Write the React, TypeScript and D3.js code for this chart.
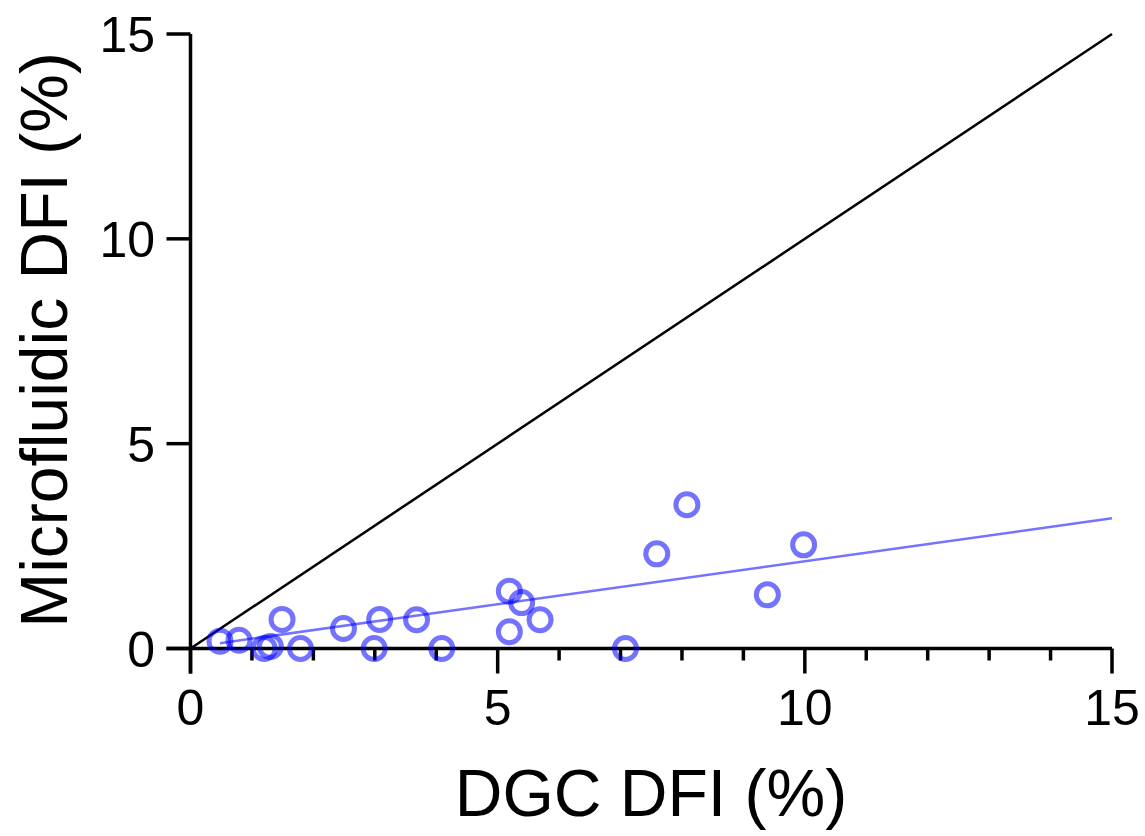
import React from "react";
import * as d3 from "d3";

const dgcDFI = [0.48, 0.79, 1.2, 1.3, 1.49, 1.79, 2.49, 2.99, 3.08, 3.68, 4.09, 5.19, 5.39, 5.19, 5.69, 7.08, 7.59, 8.08, 9.39, 9.98];
const microDFI = [0.18, 0.2, 0.0, 0.05, 0.71, 0.0, 0.49, 0.0, 0.71, 0.7, 0.0, 1.4, 1.12, 0.41, 0.7, 0.0, 2.31, 3.51, 1.31, 2.53];
const majorTicks = [0, 5, 10, 15];
const minorTicksX = d3.range(0, 16, 1);
const fitSlope = 0.21;
const fitIntercept = 0.03;
const xLabel = "DGC DFI (%)";
const yLabel = "Microfluidic DFI (%)";

export default function App() {
  const W = 1145, H = 836;
  const x = d3.scaleLinear().domain([0, 15]).range([190.5, 1112]);
  const y = d3.scaleLinear().domain([0, 15]).range([648.5, 34]);
  const font = "'Liberation Sans', Arial, Helvetica, sans-serif";
  const line = d3.line<[number, number]>().x(d => x(d[0])).y(d => y(d[1]));
  const xMin = d3.min(dgcDFI) as number;
  const fitPts: [number, number][] = [[xMin, fitSlope * xMin + fitIntercept], [15, fitSlope * 15 + fitIntercept]];
  const idPts: [number, number][] = [[0, 0], [15, 15]];
  const pts = dgcDFI.map((v, i) => [v, microDFI[i]] as [number, number]);
  return (
    <svg width={W} height={H} style={{ position: "absolute", left: 0, top: 0, background: "#fff" }} fontFamily={font}>
      <path d={line(idPts) || ""} stroke="#000" strokeWidth={2.5} fill="none" />
      <path d={line(fitPts) || ""} stroke="#0000ff" strokeOpacity={0.55} strokeWidth={2.5} fill="none" />
      <line x1={x(0)} x2={x(0)} y1={y(15)} y2={y(0) + 25} stroke="#000" strokeWidth={3.5} />
      <line x1={x(0) - 24} x2={x(15)} y1={y(0)} y2={y(0)} stroke="#000" strokeWidth={3.5} />
      {minorTicksX.map(t => (
        <line key={"mx" + t} x1={x(t)} x2={x(t)} y1={y(0)} y2={y(0) + (t % 5 === 0 ? 25 : 12)} stroke="#000" strokeWidth={3.5} />
      ))}
      {majorTicks.map(t => (
        <line key={"my" + t} x1={x(0) - 24} x2={x(0)} y1={y(t)} y2={y(t)} stroke="#000" strokeWidth={3.5} />
      ))}
      {majorTicks.map(t => (
        <text key={"lx" + t} x={x(t)} y={725} textAnchor="middle" fontSize={50} fill="#000">{t}</text>
      ))}
      {majorTicks.map(t => (
        <text key={"ly" + t} x={155} y={y(t)} dy="0.36em" textAnchor="end" fontSize={50} fill="#000">{t}</text>
      ))}
      {pts.map((p, i) => (
        <circle key={"p" + i} cx={x(p[0])} cy={y(p[1])} r={11} fill="none" stroke="#0000ff" strokeOpacity={0.55} strokeWidth={5} />
      ))}
      <text x={651} y={816} textAnchor="middle" fontSize={66} fill="#000">{xLabel}</text>
      <text transform={`translate(67,340) rotate(-90)`} textAnchor="middle" fontSize={66} fill="#000">{yLabel}</text>
    </svg>
  );
}
